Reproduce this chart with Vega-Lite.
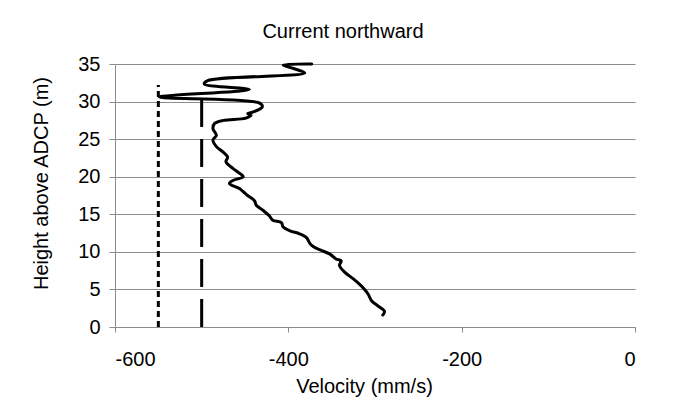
{
  "$schema": "https://vega.github.io/schema/vega-lite/v6.json",
  "autosize": "none",
  "width": 520,
  "height": 263,
  "padding": {"left": 115, "top": 64, "right": 45, "bottom": 87},
  "background": "white",
  "config": {
    "font": "Liberation Sans",
    "view": {"stroke": null},
    "axis": {
      "labelFont": "Liberation Sans",
      "titleFont": "Liberation Sans",
      "labelFontSize": 20,
      "titleFontSize": 20,
      "labelColor": "#000000",
      "titleColor": "#000000",
      "titleFontWeight": "normal",
      "domainColor": "#8c8c8c",
      "tickColor": "#8c8c8c",
      "gridColor": "#8c8c8c",
      "domainWidth": 1,
      "tickWidth": 1,
      "gridWidth": 1
    }
  },
  "title": {
    "text": "Current northward",
    "font": "Liberation Sans",
    "fontSize": 20,
    "fontWeight": "normal",
    "color": "#000000",
    "anchor": "middle",
    "baseline": "alphabetic",
    "dx": -32,
    "dy": 18,
    "offset": 14
  },
  "datasets": {
    "profile": [
      {"h": 35.0, "v": -373},
      {"h": 34.85, "v": -406},
      {"h": 34.4, "v": -394},
      {"h": 33.8, "v": -381},
      {"h": 32.8, "v": -493},
      {"h": 32.35, "v": -497},
      {"h": 31.6, "v": -445},
      {"h": 30.6, "v": -549},
      {"h": 29.8, "v": -433},
      {"h": 29.3, "v": -430},
      {"h": 28.6, "v": -441},
      {"h": 28.4, "v": -447},
      {"h": 28.2, "v": -443},
      {"h": 27.8, "v": -449},
      {"h": 27.5, "v": -475},
      {"h": 27.1, "v": -485},
      {"h": 26.4, "v": -487},
      {"h": 25.5, "v": -483},
      {"h": 24.9, "v": -487},
      {"h": 24.0, "v": -483},
      {"h": 23.3, "v": -475.5},
      {"h": 22.6, "v": -470},
      {"h": 22.0, "v": -472},
      {"h": 21.1, "v": -464},
      {"h": 20.6, "v": -458},
      {"h": 20.0, "v": -452},
      {"h": 19.5, "v": -464},
      {"h": 19.1, "v": -468},
      {"h": 18.4, "v": -456},
      {"h": 18.0, "v": -452},
      {"h": 17.5, "v": -447},
      {"h": 16.8, "v": -439},
      {"h": 16.2, "v": -437},
      {"h": 15.5, "v": -429},
      {"h": 14.8, "v": -422},
      {"h": 14.2, "v": -418},
      {"h": 13.9, "v": -408},
      {"h": 13.3, "v": -406},
      {"h": 12.8, "v": -398},
      {"h": 12.4, "v": -387},
      {"h": 11.9, "v": -379},
      {"h": 11.1, "v": -375},
      {"h": 10.6, "v": -370},
      {"h": 10.2, "v": -362},
      {"h": 9.7, "v": -352},
      {"h": 9.05, "v": -345},
      {"h": 8.8, "v": -339},
      {"h": 8.2, "v": -341},
      {"h": 7.3, "v": -335},
      {"h": 6.4, "v": -325},
      {"h": 5.7, "v": -318},
      {"h": 5.0, "v": -312},
      {"h": 4.4, "v": -308},
      {"h": 3.5, "v": -304},
      {"h": 2.8, "v": -296.5},
      {"h": 2.1, "v": -289},
      {"h": 1.6, "v": -291}
    ],
    "dotted": [
      {"h": 0, "v": -550},
      {"h": 32.2, "v": -550}
    ],
    "dashed": [
      {"h": 0, "v": -500},
      {"h": 31.0, "v": -500}
    ]
  },
  "encoding": {
    "x": {
      "field": "v",
      "type": "quantitative",
      "scale": {"domain": [-600, 0], "nice": false, "zero": false},
      "axis": {
        "values": [-600, -400, -200, 0],
        "labelExpr": "datum.value < 0 ? '-' + format(-datum.value, 'd') : format(datum.value, 'd')",
        "grid": false,
        "tickSize": 5,
        "labelPadding": 17,
        "title": "Velocity (mm/s)",
        "titleBaseline": "alphabetic",
        "titleX": 249,
        "titleY": 65
      }
    },
    "y": {
      "field": "h",
      "type": "quantitative",
      "scale": {"domain": [0, 35], "nice": false, "zero": false},
      "axis": {
        "values": [0, 5, 10, 15, 20, 25, 30, 35],
        "grid": true,
        "tickSize": 6,
        "labelPadding": 9,
        "title": "Height above ADCP (m)",
        "titleBaseline": "alphabetic",
        "titleAngle": -90,
        "titleAlign": "center",
        "titleX": -68,
        "titleY": 119
      }
    }
  },
  "layer": [
    {
      "data": {"name": "dotted"},
      "mark": {"type": "line", "color": "#000000", "strokeWidth": 3, "strokeDash": [6, 4], "strokeCap": "butt"}
    },
    {
      "data": {"name": "dashed"},
      "mark": {"type": "line", "color": "#000000", "strokeWidth": 3, "strokeDash": [28, 12], "strokeCap": "butt"}
    },
    {
      "data": {"name": "profile"},
      "mark": {"type": "line", "color": "#000000", "strokeWidth": 3, "interpolate": "catmull-rom", "strokeJoin": "round", "strokeCap": "round"},
      "encoding": {
        "order": {"field": "h", "sort": "descending"}
      }
    }
  ]
}
